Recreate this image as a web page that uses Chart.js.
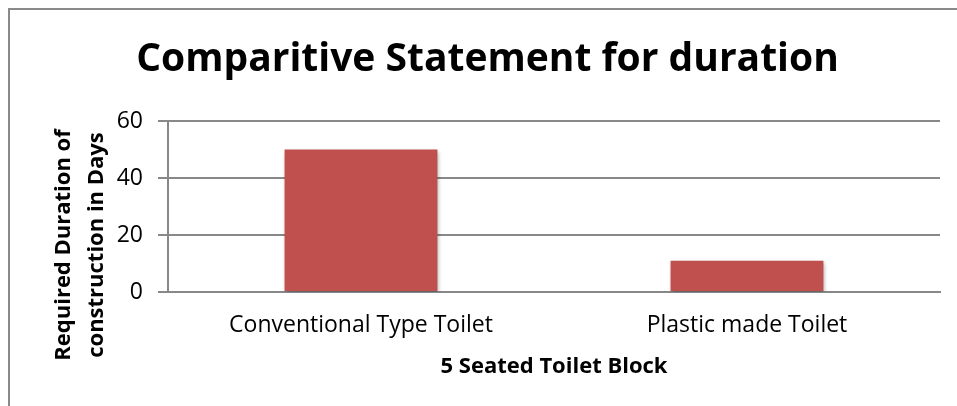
<!DOCTYPE html>
<html>
<head>
<meta charset="utf-8">
<script src="https://cdn.jsdelivr.net/npm/chart.js@4"></script>
<style>
  html, body { margin: 0; padding: 0; background: #fff; }
  #wrap { position: relative; width: 957px; height: 406px; overflow: hidden; }
  #frame { position: absolute; left: 8px; top: 8px; width: 1000px; height: 1000px;
           border-left: 2px solid #8a8a8a; border-top: 2px solid #8a8a8a; box-sizing: border-box; }
  canvas { position: absolute; left: 0; top: 0; }
</style>
</head>
<body>
<div id="wrap">
  <div id="frame"></div>
  <canvas id="c" width="957" height="406"></canvas>
</div>
<script>
const chartTitle = "Comparitive Statement for duration";
const categories = ["Conventional Type Toilet", "Plastic made Toilet"];
const durationDays = [50, 11];
const yTicks = [0, 20, 40, 60];
const xAxisTitle = "5 Seated Toilet Block";
const yAxisTitle = ["Required Duration of", "construction in Days"];

const FONT = "'Open Sans', 'Noto Sans', sans-serif";

const textPlugin = {
  id: 'textPlugin',
  afterDraw(chart) {
    const ctx = chart.ctx;
    ctx.save();
    ctx.fillStyle = '#000';
    ctx.font = "bold 39px " + FONT;
    ctx.textAlign = 'center';
    ctx.textBaseline = 'alphabetic';
    ctx.fillText(chartTitle, 487.5, 71);
    ctx.restore();

    ctx.save();
    ctx.fillStyle = '#000';
    ctx.font = "bold 22px " + FONT;
    ctx.textAlign = 'center';
    ctx.textBaseline = 'alphabetic';
    const baselines = [70, 103];
    yAxisTitle.forEach((t, i) => {
      ctx.save();
      ctx.translate(baselines[i], 245);
      ctx.rotate(-Math.PI / 2);
      ctx.fillText(t, 0, 0);
      ctx.restore();
    });
    ctx.restore();
  }
};

const shadowPlugin = {
  id: 'shadowPlugin',
  beforeDatasetsDraw(chart) {
    const ctx = chart.ctx;
    ctx.save();
    ctx.shadowColor = 'rgba(0,0,0,0.35)';
    ctx.shadowBlur = 4;
    ctx.shadowOffsetX = 1;
    ctx.shadowOffsetY = 2;
  },
  afterDatasetsDraw(chart) {
    chart.ctx.restore();
  }
};

new Chart(document.getElementById('c'), {
  type: 'bar',
  data: {
    labels: categories,
    datasets: [{
      data: durationDays,
      backgroundColor: '#C0504D',
      borderWidth: 0,
      barPercentage: 0.396,
      categoryPercentage: 1.0
    }]
  },
  options: {
    responsive: false,
    devicePixelRatio: 1,
    animation: false,
    layout: { padding: { top: 121, right: 17, left: 0, bottom: 0 } },
    plugins: {
      legend: { display: false },
      title: { display: false },
      tooltip: { enabled: false }
    },
    scales: {
      y: {
        min: 0, max: 60,
        afterBuildTicks(scale) { scale.ticks = yTicks.map(v => ({ value: v })); },
        afterFit(scale) { scale.width = 168; },
        ticks: { font: { family: FONT, size: 23 }, color: '#000', padding: 15 },
        grid: { color: '#888', lineWidth: 2, tickLength: 10, drawTicks: true },
        border: { color: '#888', width: 2 }
      },
      x: {
        afterFit(scale) { scale.height = 114; },
        grid: { display: false },
        border: { color: '#888', width: 2 },
        ticks: { font: { family: FONT, size: 23 }, color: '#000', padding: 12 },
        title: {
          display: true,
          text: xAxisTitle,
          font: { family: FONT, size: 22, weight: 'bold' },
          color: '#000',
          padding: { top: 0, bottom: 26 }
        }
      }
    }
  },
  plugins: [shadowPlugin, textPlugin]
});
</script>
</body>
</html>
